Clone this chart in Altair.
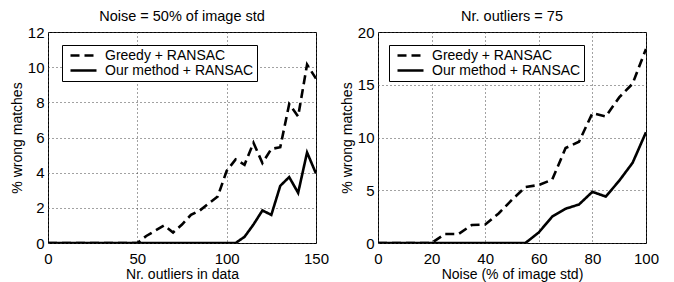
import altair as alt
import pandas as pd

# ---- data ----
left_x = [0, 5, 10, 15, 20, 25, 30, 35, 40, 45, 50, 55, 60, 65, 70, 75, 80, 85, 90, 95,
          100, 105, 110, 115, 120, 125, 130, 135, 140, 145, 150]
left_greedy = [0, 0, 0, 0, 0, 0, 0, 0, 0, 0, 0, 0.4, 0.7, 1.0, 0.6, 1.05, 1.6, 1.85, 2.25, 2.65,
               4.1, 4.75, 4.45, 5.7, 4.55, 5.35, 5.45, 7.9, 7.2, 10.15, 9.35]
left_ours = [0, 0, 0, 0, 0, 0, 0, 0, 0, 0, 0, 0, 0, 0, 0, 0, 0, 0, 0, 0,
             0, 0, 0.35, 1.05, 1.85, 1.6, 3.25, 3.75, 2.85, 5.15, 3.95]

right_x = [0, 5, 10, 15, 20, 25, 30, 35, 40, 45, 50, 55, 60, 65, 70, 75, 80, 85, 90, 95, 100]
right_greedy = [0, 0, 0, 0, 0, 0.85, 0.85, 1.7, 1.75, 2.8, 4.1, 5.3, 5.5, 6.0, 9.0, 9.6,
                12.3, 12.0, 13.8, 15.1, 18.4]
right_ours = [0, 0, 0, 0, 0, 0, 0, 0, 0, 0, 0, 0, 1.0, 2.5, 3.25, 3.65, 4.85, 4.4, 5.9, 7.6, 10.5]

series_names = ["Greedy + RANSAC", "Our method + RANSAC"]

FONT = "Liberation Sans"


def panel(xs, greedy, ours, title, xtitle, xmax, xticks, ymax, yticks, lx):
    df = pd.DataFrame({
        "x": xs + xs,
        "y": greedy + ours,
        "series": [series_names[0]] * len(xs) + [series_names[1]] * len(xs),
    })
    return alt.Chart(df).mark_line(color="black", strokeWidth=2.6, clip=True).encode(
        x=alt.X("x:Q", title=xtitle,
                scale=alt.Scale(domain=[0, xmax], nice=False),
                axis=alt.Axis(values=xticks, format="d")),
        y=alt.Y("y:Q", title="% wrong matches",
                scale=alt.Scale(domain=[0, ymax], nice=False),
                axis=alt.Axis(values=yticks, format="d")),
        strokeDash=alt.StrokeDash(
            "series:N", title=None,
            scale=alt.Scale(domain=series_names, range=[[9, 5], [1, 0]]),
            legend=alt.Legend(orient="none", legendX=lx, legendY=13,
                              strokeColor="black", fillColor="white",
                              padding=3, symbolType="M-0.333,0H4", symbolSize=144,
                              symbolStrokeWidth=2.6, symbolStrokeColor="black",
                              symbolFillColor="transparent",
                              labelFontSize=14, labelFont=FONT, labelOffset=25,
                              labelColor="black",
                              rowPadding=0, labelLimit=300),
        ),
        detail="series:N",
    ).properties(
        width=268, height=211,
        title=alt.TitleParams(title, fontSize=14.5, font=FONT, fontWeight="normal",
                              offset=1, color="black"),
    )


left = panel(left_x, left_greedy, left_ours, "Noise = 50% of image std",
             "Nr. outliers in data", 150, [0, 50, 100, 150], 12, [0, 2, 4, 6, 8, 10, 12], 14)
right = panel(right_x, right_greedy, right_ours, "Nr. outliers = 75",
              "Noise (% of image std)", 100, [0, 20, 40, 60, 80, 100], 20, [0, 5, 10, 15, 20], 11)

chart = alt.hconcat(left, right, spacing=9).resolve_scale(
    strokeDash="independent"
).resolve_legend(
    strokeDash="independent"
).properties(
    padding={"left": 1, "top": 0, "right": 0, "bottom": 0}
).configure_view(
    stroke="black", strokeWidth=1
).configure_axis(
    domain=False, ticks=False, tickSize=0, labelFlush=False,
    grid=True, gridColor="#444", gridDash=[1, 3], gridWidth=1, gridOpacity=1,
    labelFont=FONT, labelFontSize=15, labelColor="black",
    titleFont=FONT, titleFontSize=14, titleFontWeight="normal", titleColor="black",
).configure_axisX(
    labelPadding=8, titlePadding=1
).configure_axisY(
    labelPadding=4, titlePadding=3
)

chart.save("out.html", embed_options={"renderer": "svg", "actions": False})
